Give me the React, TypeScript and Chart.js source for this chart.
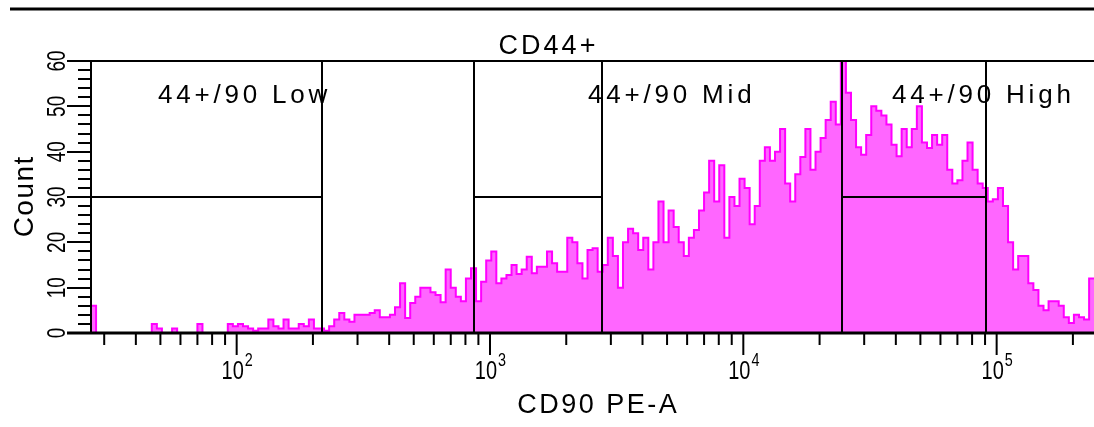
import { useEffect, useRef } from "react";
import { Chart, registerables } from "chart.js";

Chart.register(...registerables);

// ---- data ----
const LOG_START = 1.425; // log10 of the left edge of the first bin
const LOG_STEP = 0.02; // log10 width of one histogram bin
const LOG_END = 5.3843; // log10 of the right edge of the visible axis
const COUNTS = [
  6, 0, 0, 0, 0, 0, 0, 0, 0, 0,
  0, 0, 2, 1, 0, 0, 1, 0, 0, 0,
  0, 2, 0, 0, 0, 0, 0, 2, 1.5, 2,
  1.5, 1, 0.5, 1, 1, 3, 1.5, 1, 3, 1,
  1, 2, 1.5, 3, 1, 1, 0.5, 1.5, 3, 4.4,
  3, 2.5, 4, 4, 4, 4.4, 5, 3.5, 3.5, 4,
  5.7, 11, 3.3, 6.6, 8, 10, 10, 9, 8.4, 6.8,
  14, 10, 8, 7, 12, 14.3, 7, 11.3, 16, 18,
  11, 12, 12.8, 15, 13, 14, 16.8, 13.2, 14.6, 14.6,
  18, 15.4, 13.5, 13.5, 21, 20, 15.4, 12, 18.3, 18.7,
  13.5, 15, 21, 17, 10, 20, 23, 22, 18.3, 21,
  14, 20, 29, 20, 27, 23.4, 20, 17, 21, 22.7,
  27, 31, 38, 29, 37, 21, 30, 28, 34, 32,
  24, 28, 38, 41, 38, 40, 45, 33, 29, 35,
  38.8, 45, 36, 40, 43, 47, 51, 46, 60, 53,
  47, 41, 39.3, 43.7, 50, 49, 48, 46, 41.5, 39,
  45, 41, 45, 50, 42, 40.8, 43.7, 41.5, 43.7, 36,
  33, 33.7, 38, 42, 36, 33, 32, 29, 29.5, 32,
  28, 20, 14, 17, 17, 11, 9.5, 6, 5, 7,
  7, 6, 3.5, 2.2, 4, 3.5, 3, 12,
];
const Y_MIN = 0;
const Y_MAX = 60;
const Y_MAJOR = [0, 10, 20, 30, 40, 50, 60];
const Y_MINOR_STEP = 2;
const X_DECADES = [2, 3, 4, 5];
const X_MINOR_MULT = [2, 3, 4, 5, 6, 7, 8, 9];

const GATE_NAMES = ["44+/90 Low", "44+/90 Mid", "44+/90 High"];
const GATE_START = [Math.pow(10, LOG_START), 867, 24460];
const GATE_END = [216.6, 2761, 90770];
const GATE_LEVEL = 30;
const GATE_LABEL_X = [48.9, 2438, 38620];
const GATE_LABEL_Y = 50.7;

const TITLE = "CD44+";
const X_TITLE = "CD90 PE-A";
const Y_TITLE = "Count";

const FILL = "#ff66ff";
const EDGE = "#ff00ff";
const FONT = '"Liberation Sans", Arial, sans-serif';

function drawSpaced(ctx: CanvasRenderingContext2D, s: string, x: number, y: number, spacing: number, align: "left" | "center") {
  ctx.letterSpacing = spacing + "px";
  const w = ctx.measureText(s).width - spacing;
  const x0 = align === "center" ? x - w / 2 : x;
  ctx.textAlign = "left";
  ctx.fillText(s, x0, y);
  ctx.letterSpacing = "0px";
}

const flowPlugin = {
  id: "flowDecor",
  afterDatasetsDraw(chart: any) {
    const { ctx, chartArea: a } = chart;
    const xs = chart.scales.x;
    const ys = chart.scales.y;
    const line = (x1: number, y1: number, x2: number, y2: number, w: number) => {
      ctx.lineWidth = w;
      ctx.beginPath();
      ctx.moveTo(x1, y1);
      ctx.lineTo(x2, y2);
      ctx.stroke();
    };
    ctx.save();
    ctx.strokeStyle = "#000";
    ctx.fillStyle = "#000";
    ctx.lineCap = "butt";

    // figure top rule
    line(10, 9, chart.width, 9, 3);

    // gates
    GATE_START.forEach((s, i) => {
      const x0 = Math.round(xs.getPixelForValue(s));
      const x1 = Math.round(xs.getPixelForValue(GATE_END[i]));
      const yl = Math.round(ys.getPixelForValue(GATE_LEVEL));
      line(x0, a.top, x0, a.bottom, 2);
      line(x1, a.top, x1, a.bottom, 2);
      line(x0, yl, x1, yl, 2);
    });

    // frame
    line(a.left, a.top, a.right, a.top, 2);
    line(a.left, a.top, a.left, a.bottom + 1, 2);
    line(a.left - 24, a.bottom, a.right, a.bottom, 3);

    // y ticks
    for (let v = Y_MIN; v <= Y_MAX; v += Y_MINOR_STEP) {
      const py = Math.round(ys.getPixelForValue(v));
      const major = Y_MAJOR.includes(v);
      line(a.left - (major ? 24 : 13), py, a.left, py, 2);
    }
    // y labels
    ctx.font = "25px " + FONT;
    ctx.textBaseline = "middle";
    ctx.textAlign = "center";
    Y_MAJOR.forEach((v) => {
      const py = ys.getPixelForValue(v);
      ctx.save();
      ctx.translate(58, py);
      ctx.rotate(-Math.PI / 2);
      ctx.scale(0.76, 1);
      ctx.fillText(String(v), 0, 0);
      ctx.restore();
    });

    // x ticks
    for (let d = 1; d <= 5; d++) {
      const base = Math.pow(10, d);
      const major = xs.getPixelForValue(base);
      if (base >= xs.min && base <= xs.max) line(major, a.bottom, major, a.bottom + 22, 2);
      X_MINOR_MULT.forEach((m) => {
        const v = m * base;
        if (v < xs.min || v > xs.max) return;
        const px = xs.getPixelForValue(v);
        line(px, a.bottom, px, a.bottom + 12, 2);
      });
    }
    // x labels 10^n
    ctx.textBaseline = "alphabetic";
    X_DECADES.forEach((e) => {
      const px = xs.getPixelForValue(Math.pow(10, e));
      ctx.font = "25px " + FONT;
      const wBase = ctx.measureText("10").width * 0.8;
      ctx.font = "18px " + FONT;
      const wExp = ctx.measureText(String(e)).width * 0.8;
      const left = px - (wBase + wExp) / 2;
      ctx.save();
      ctx.translate(left, 379);
      ctx.scale(0.8, 1);
      ctx.font = "25px " + FONT;
      ctx.textAlign = "left";
      ctx.fillText("10", 0, 0);
      ctx.restore();
      ctx.save();
      ctx.translate(left + wBase + 1, 366);
      ctx.scale(0.8, 1);
      ctx.font = "18px " + FONT;
      ctx.textAlign = "left";
      ctx.fillText(String(e), 0, 0);
      ctx.restore();
    });

    // titles
    ctx.font = "27px " + FONT;
    drawSpaced(ctx, TITLE, 547, 54, 3, "center");
    drawSpaced(ctx, X_TITLE, 597, 413, 2.5, "center");
    ctx.save();
    ctx.translate(33, (a.top + a.bottom) / 2);
    ctx.rotate(-Math.PI / 2);
    ctx.font = "28px " + FONT;
    drawSpaced(ctx, Y_TITLE, 0, 0, 1.5, "center");
    ctx.restore();

    // gate labels
    ctx.font = "26px " + FONT;
    GATE_NAMES.forEach((n, i) => {
      const px = xs.getPixelForValue(GATE_LABEL_X[i]);
      const py = ys.getPixelForValue(GATE_LABEL_Y);
      drawSpaced(ctx, n, px, py, 3.8, "left");
    });

    ctx.restore();
  },
};

export default function App() {
  const ref = useRef<HTMLCanvasElement>(null);
  useEffect(() => {
    if (!ref.current) return;
    const pts = COUNTS.map((c, i) => ({ x: Math.pow(10, LOG_START + i * LOG_STEP), y: c }));
    pts.push({ x: Math.pow(10, LOG_START + COUNTS.length * LOG_STEP), y: COUNTS[COUNTS.length - 1] });
    const chart = new Chart(ref.current, {
      type: "line",
      data: {
        datasets: [
          {
            data: pts,
            stepped: true,
            fill: "origin",
            backgroundColor: FILL,
            borderColor: EDGE,
            borderWidth: 2,
            pointRadius: 0,
          },
        ],
      },
      options: {
        animation: false,
        responsive: false,
        devicePixelRatio: 1,
        layout: { padding: { left: 91, top: 61, right: 0, bottom: 94 } },
        plugins: { legend: { display: false }, tooltip: { enabled: false } },
        scales: {
          x: { type: "logarithmic", min: Math.pow(10, LOG_START), max: Math.pow(10, LOG_END), display: false },
          y: { type: "linear", min: Y_MIN, max: Y_MAX, display: false },
        },
      },
      plugins: [flowPlugin],
    });
    return () => chart.destroy();
  }, []);
  return (
    <div style={{ position: "absolute", left: 0, top: 0, width: 1094, height: 427, background: "#fff" }}>
      <canvas ref={ref} width={1094} height={427} style={{ display: "block" }} />
    </div>
  );
}
